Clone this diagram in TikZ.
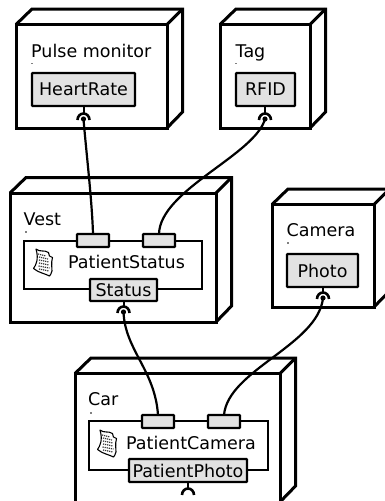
\documentclass[tikz,border=0pt]{standalone}
\usepackage{fontspec}
\usetikzlibrary{calc}
\setmainfont{DejaVu Sans}
\definecolor{boxgray}{HTML}{E2E2E2}
\tikzset{
  devicebox/.style={draw=black,line width=3pt,line join=miter},
  portbox/.style={draw=black,fill=boxgray,line width=2.3pt,rounded corners=0.8pt,inner sep=0pt,outer sep=0pt,font=\fontsize{17.5}{17.5}\selectfont,anchor=north west},
  compbox/.style={draw=black,fill=white,line width=2pt,inner sep=0pt,outer sep=0pt,anchor=north west},
  lbl/.style={inner sep=0pt,font=\fontsize{17.5}{17.5}\selectfont,anchor=base west},
  wire/.style={draw=black,line width=2.2pt},
  stem/.style={draw=black,line width=2pt},
  socket/.style={draw=black,line width=2.6pt},
  tick/.style={fill=gray,inner sep=0pt,minimum size=1.1pt,shape=rectangle}
}
\newcommand{\devicecube}[4]{% left, top, right, bottom
  \draw[devicebox] (#1,#2) rectangle (#3,#4);
  \draw[devicebox] (#1,#2) -- ++(16,-15.5) -| ({#3+15.5},{#4-16}) -- (#3,#4);
  \draw[devicebox] (#3,#2) -- ++(15.5,-15.5);
}
\newcommand{\doccurl}[2]{%
  \begin{scope}[shift={(#1,#2)},line width=1.1pt]
    \draw[fill=white,line join=round] (3,0) .. controls (7,3.5) and (11,0.5) .. (15.5,3.5)
      .. controls (15,6.5) and (17,8) .. (19.5,8.5) .. controls (18,14) and (19,19) .. (19,22)
      .. controls (18,25) and (17.5,26) .. (16.5,27) .. controls (12,24.5) and (6,24) .. (0.5,19.5)
      .. controls (3,16) and (6,10) .. (3,0) -- cycle;
    \foreach \r/\a/\b in {5/5/13,8/6/15,11/6/16,14/6/16,17/5.5/16.5,20/6/16}{
      \draw[dash pattern=on 1.2pt off 0.9pt,line width=1.2pt,black!80] (\a,\r) -- (\b,\r+2);
    }
  \end{scope}
}
\begin{document}
\begin{tikzpicture}[x=1pt,y=-1pt]
\useasboundingbox (0,0) rectangle (385,501);
\clip (0,0) rectangle (385,501);
\fill[white] (0,0) rectangle (385,501);

% devices
\devicecube{16}{24.5}{167}{128}
\devicecube{220}{24.5}{310}{128}
\devicecube{10}{193}{216}{322}
\devicecube{272}{204.5}{374}{307}
\devicecube{75}{373.5}{280}{502}

% device labels
\node[lbl] (lpulse) at (31,57) {Pulse monitor};
\node[lbl] (ltag) at (235.5,57) {Tag};
\node[lbl] (lvest) at (23.5,225) {Vest};
\node[lbl] (lcamera) at (286.5,236) {Camera};
\node[lbl] (lcar) at (88,405) {Car};
\node[tick] (d1) at (32,63.5) {};
\node[tick] (d2) at (236,63.5) {};
\node[tick] (d3) at (26,232) {};
\node[tick] (d4) at (288,243) {};
\node[tick] (d5) at (91,413) {};

% interfaces in simple devices
\node[portbox,minimum width=103pt,minimum height=33pt] (heart) at (32,73) {HeartRate};
\node[portbox,minimum width=59pt,minimum height=33pt] (rfid) at (236,73) {RFID};
\node[portbox,minimum width=71pt,minimum height=33pt] (photo) at (287,254) {Photo};

% vest component
\node[compbox,minimum width=178pt,minimum height=48pt] (pstatus) at (24,241) {};
\node[lbl] (tstatus) at (68,268) {PatientStatus};
\node[portbox,minimum width=32pt,minimum height=13pt] (vp1) at (77,234) {};
\node[portbox,minimum width=32pt,minimum height=13pt] (vp2) at (143,234) {};
\node[portbox,minimum width=67pt,minimum height=22pt] (status) at (90,279) {Status};
\doccurl{33}{249}

% car component
\node[compbox,minimum width=179pt,minimum height=49pt] (pcam) at (89,421) {};
\node[lbl] (tcam) at (126,449) {PatientCamera};
\node[portbox,minimum width=32pt,minimum height=13pt] (cp1) at (142,415) {};
\node[portbox,minimum width=32pt,minimum height=13pt] (cp2) at (208,415) {};
\node[portbox,minimum width=118pt,minimum height=23pt] (pphoto) at (129,459) {PatientPhoto};
\doccurl{97}{430}

% sockets
\coordinate (sh) at (83.5,119);
\coordinate (sr) at (265,119);
\coordinate (ss) at (123.5,312);
\coordinate (sp) at (323,298);
\coordinate (sc) at (188,494);
\foreach \c/\topnode in {sh/heart,sr/rfid,ss/status,sp/photo,sc/pphoto}{
  \draw[stem] (\c |- \topnode.south) -- ($(\c)+(0,-6)$);
  \draw[socket] ($(\c)+(-6,1)$) arc[start angle=180,end angle=0,x radius=6pt,y radius=6.5pt];
}
\foreach \c in {sh,sr,ss,sp}{\fill (\c) circle[radius=2.6pt];}

% connectors
\draw[wire] (sh) .. controls (86,150) and (92,200) .. (vp1.north);
\draw[wire] (sr) .. controls (255,155) and (160,190) .. (vp2.north);
\draw[wire] (ss) .. controls (125,350) and (155,370) .. (cp1.north);
\draw[wire] (sp) .. controls (318,345) and (228,370) .. (cp2.north);
\end{tikzpicture}
\end{document}
